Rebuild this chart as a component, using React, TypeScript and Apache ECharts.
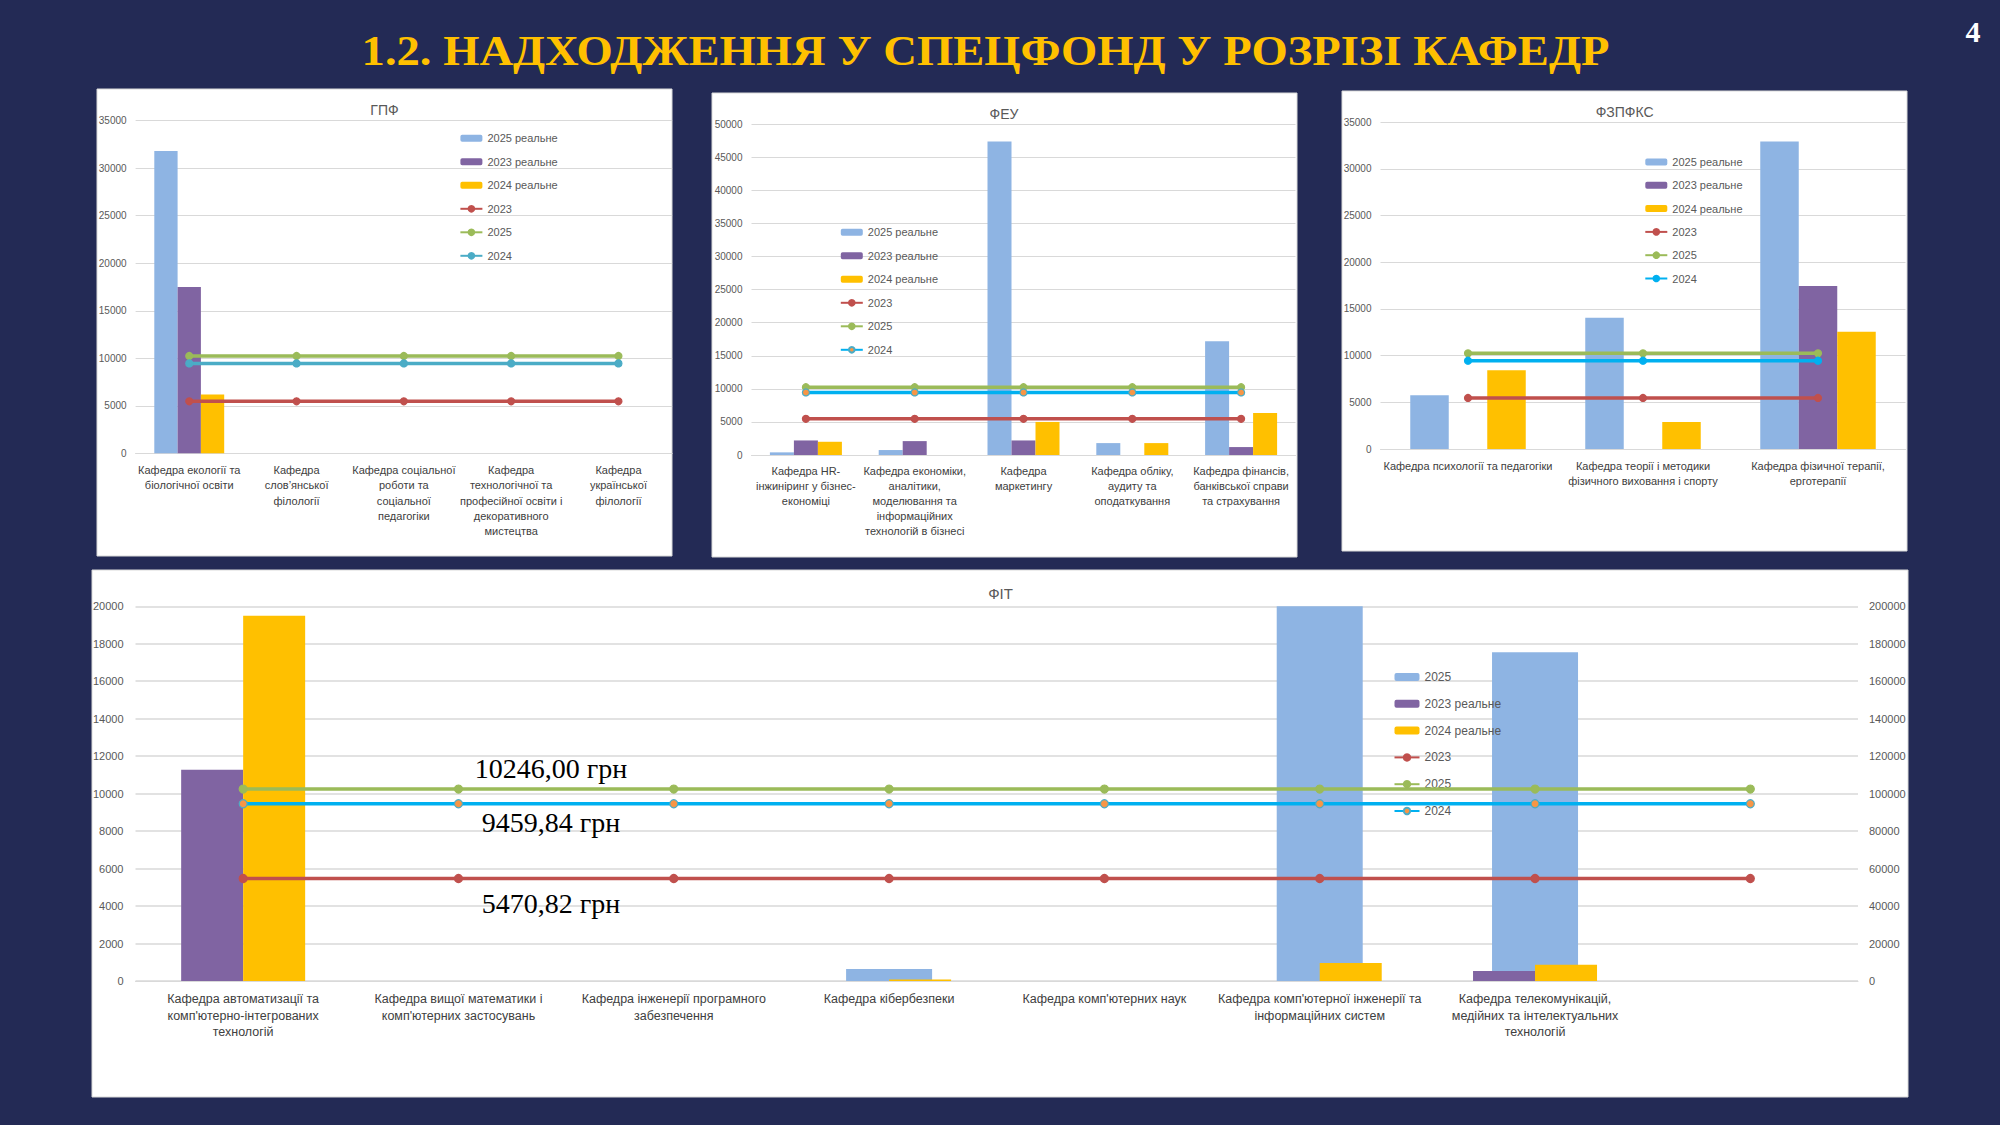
import React, { useEffect, useRef } from "react";
import * as echarts from "echarts";

// ---------- page texts ----------
const PAGE_TITLE = "1.2. НАДХОДЖЕННЯ У СПЕЦФОНД У РОЗРІЗІ КАФЕДР";
const PAGE_NUMBER = "4";
const NOTE_2025 = "10246,00 грн";
const NOTE_2024 = "9459,84 грн";
const NOTE_2023 = "5470,82 грн";

// ---------- ГПФ ----------
const gpfTitle = "ГПФ";
const gpfCategories = [
  "Кафедра екології та\nбіологічної освіти",
  "Кафедра\nслов’янської\nфілології",
  "Кафедра соціальної\nроботи та\nсоціальної\nпедагогіки",
  "Кафедра\nтехнологічної та\nпрофесійної освіти і\nдекоративного\nмистецтва",
  "Кафедра\nукраїнської\nфілології",
];
const gpfReal2025 = [31800, null, null, null, null];
const gpfReal2023 = [17500, null, null, null, null];
const gpfReal2024 = [6200, null, null, null, null];
const gpfPlan2023 = [5470.82, 5470.82, 5470.82, 5470.82, 5470.82];
const gpfPlan2025 = [10246, 10246, 10246, 10246, 10246];
const gpfPlan2024 = [9459.84, 9459.84, 9459.84, 9459.84, 9459.84];

// ---------- ФЕУ ----------
const feuTitle = "ФЕУ";
const feuCategories = [
  "Кафедра HR-\nінжиніринг у бізнес-\nекономіці",
  "Кафедра економіки,\nаналітики,\nмоделювання та\nінформаційних\nтехнологій в бізнесі",
  "Кафедра\nмаркетингу",
  "Кафедра обліку,\nаудиту та\nоподаткування",
  "Кафедра фінансів,\nбанківської справи\nта страхування",
];
const feuReal2025 = [400, 750, 47400, 1800, 17200];
const feuReal2023 = [2200, 2100, 2200, null, 1200];
const feuReal2024 = [2000, null, 5000, 1800, 6350];
const feuPlan2023 = [5470.82, 5470.82, 5470.82, 5470.82, 5470.82];
const feuPlan2025 = [10246, 10246, 10246, 10246, 10246];
const feuPlan2024 = [9459.84, 9459.84, 9459.84, 9459.84, 9459.84];

// ---------- ФЗПФКС ----------
const fzTitle = "ФЗПФКС";
const fzCategories = [
  "Кафедра психології та педагогіки",
  "Кафедра теорії і методики\nфізичного виховання і спорту",
  "Кафедра фізичної терапії,\nерготерапії",
];
const fzReal2025 = [5750, 14050, 32950];
const fzReal2023 = [null, null, 17450];
const fzReal2024 = [8450, 2900, 12550];
const fzPlan2023 = [5470.82, 5470.82, 5470.82];
const fzPlan2025 = [10246, 10246, 10246];
const fzPlan2024 = [9459.84, 9459.84, 9459.84];

// ---------- ФІТ ----------
const fitTitle = "ФІТ";
const fitCategories = [
  "Кафедра автоматизації та\nкомп'ютерно-інтегрованих\nтехнологій",
  "Кафедра вищої математики і\nкомп'ютерних застосувань",
  "Кафедра інженерії програмного\nзабезпечення",
  "Кафедра кібербезпеки",
  "Кафедра комп'ютерних наук",
  "Кафедра комп'ютерної інженерії та\nінформаційних систем",
  "Кафедра телекомунікацій,\nмедійних та інтелектуальних\nтехнологій",
  "",
];
const fit2025 = [null, null, null, 6400, null, 200000, 175500, null];
const fitReal2023 = [11270, null, null, null, null, null, 530, null];
const fitReal2024 = [19500, null, null, 80, null, 960, 865, null];
const fitPlan2023 = [5470.82, 5470.82, 5470.82, 5470.82, 5470.82, 5470.82, 5470.82, 5470.82];
const fitPlan2025 = [10246, 10246, 10246, 10246, 10246, 10246, 10246, 10246];
const fitPlan2024 = [9459.84, 9459.84, 9459.84, 9459.84, 9459.84, 9459.84, 9459.84, 9459.84];

// ---------- axis scales ----------
const gpfAxis = { max: 35000, interval: 5000 };
const feuAxis = { max: 50000, interval: 5000 };
const fzAxis = { max: 35000, interval: 5000 };
const fitLeftAxis = { max: 20000, interval: 2000 };
const fitRightAxis = { max: 200000, interval: 20000 };

// ---------- styles ----------
const FONT = '"Liberation Sans", Arial, sans-serif';
const SERIF = '"Liberation Serif", "Times New Roman", serif';
const BG = "#232A55";
const C_BLUE = "#8EB4E3";
const C_PURPLE = "#8064A2";
const C_YELLOW = "#FFC000";
const C_RED = "#C0504D";
const C_GREEN = "#9BBB59";
const C_TEAL = "#4BACC6";
const C_CYAN = "#00B0F0";
const C_ORANGE = "#F79646";
const GRIDLINE = "#D9D9D9";

const plainNumber = (v: number) => String(v);

type Panel = {
  key: string;
  title: string;
  cats: string[];
  r25: (number | null)[];
  r23: (number | null)[];
  r24: (number | null)[];
  p23: number[];
  p25: number[];
  p24: number[];
  axis: { max: number; interval: number };
  grid: { left: number; top: number; width: number; height: number };
  barWidth: number;
  legend: { left: number; top: number; gap: number };
  c24Line: string;
  c24Marker: string;
  c24Border: string;
  rect: [number, number, number, number];
  titlePos: [number, number];
  labelMargin: number;
  labelLH: number;
};

const panels: Panel[] = [
  {
    key: "gpf", title: gpfTitle, cats: gpfCategories,
    r25: gpfReal2025, r23: gpfReal2023, r24: gpfReal2024,
    p23: gpfPlan2023, p25: gpfPlan2025, p24: gpfPlan2024, axis: gpfAxis,
    grid: { left: 135.6, top: 120.7, width: 536.5, height: 332.6 },
    barWidth: 23.3,
    legend: { left: 459.4, top: 131.3, gap: 9.5 },
    c24Line: C_TEAL, c24Marker: C_TEAL, c24Border: C_TEAL,
    rect: [97, 89, 575, 467], titlePos: [384.5, 109.5],
    labelMargin: 9, labelLH: 15.3,
  },
  {
    key: "feu", title: feuTitle, cats: feuCategories,
    r25: feuReal2025, r23: feuReal2023, r24: feuReal2024,
    p23: feuPlan2023, p25: feuPlan2025, p24: feuPlan2024, axis: feuAxis,
    grid: { left: 751.5, top: 124.3, width: 544, height: 330.7 },
    barWidth: 24,
    legend: { left: 839.8, top: 225.3, gap: 9.5 },
    c24Line: C_CYAN, c24Marker: C_ORANGE, c24Border: C_TEAL,
    rect: [712, 93, 585, 464], titlePos: [1004, 113.5],
    labelMargin: 8.5, labelLH: 15,
  },
  {
    key: "fz", title: fzTitle, cats: fzCategories,
    r25: fzReal2025, r23: fzReal2023, r24: fzReal2024,
    p23: fzPlan2023, p25: fzPlan2025, p24: fzPlan2024, axis: fzAxis,
    grid: { left: 1380.5, top: 122.3, width: 525, height: 326.7 },
    barWidth: 38.5,
    legend: { left: 1644.3, top: 155, gap: 9.3 },
    c24Line: C_CYAN, c24Marker: C_CYAN, c24Border: C_CYAN,
    rect: [1342, 91, 565, 460], titlePos: [1624.6, 111.5],
    labelMargin: 9, labelLH: 15,
  },
];

const FIT_GRID = { left: 135.5, top: 606.3, width: 1722.5, height: 374.7 };
const FIT_RECT: [number, number, number, number] = [92, 570, 1816, 527];

const nameOf = (n: string) => n.split("|")[1];

function lineSeries(name: string, xi: number, yi: number, data: number[], color: string, marker: string, border: string, size: number, width: number) {
  return {
    type: "line", name, xAxisIndex: xi, yAxisIndex: yi, data,
    symbol: "circle", symbolSize: size, showSymbol: true,
    lineStyle: { width, color },
    itemStyle: { color: marker, borderColor: border, borderWidth: 1.2 },
    z: 4,
  };
}

function buildOption() {
  const grid: any[] = [];
  const xAxis: any[] = [];
  const yAxis: any[] = [];
  const series: any[] = [];
  const legend: any[] = [];
  const graphic: any[] = [];

  panels.forEach((p, i) => {
    grid.push({ ...p.grid, containLabel: false });
    xAxis.push({
      type: "category", gridIndex: i, data: p.cats,
      axisTick: { show: false },
      axisLine: { show: true, lineStyle: { color: GRIDLINE } },
      axisLabel: { interval: 0, fontSize: 11, color: "#404040", lineHeight: p.labelLH, margin: p.labelMargin, fontFamily: FONT },
    });
    yAxis.push({
      type: "value", gridIndex: i, min: 0, max: p.axis.max, interval: p.axis.interval,
      axisLine: { show: false }, axisTick: { show: false },
      axisLabel: { fontSize: 10, color: "#595959", margin: 9, fontFamily: FONT, formatter: plainNumber },
      splitLine: { lineStyle: { color: GRIDLINE, width: 1 } },
    });
    const names = [
      `${p.key}|2025 реальне`, `${p.key}|2023 реальне`, `${p.key}|2024 реальне`,
      `${p.key}|2023`, `${p.key}|2025`, `${p.key}|2024`,
    ];
    const barBase = { type: "bar", xAxisIndex: i, yAxisIndex: i, barWidth: p.barWidth, barGap: "0%", z: 2 };
    series.push({ ...barBase, name: names[0], data: p.r25, itemStyle: { color: C_BLUE } });
    series.push({ ...barBase, name: names[1], data: p.r23, itemStyle: { color: C_PURPLE } });
    series.push({ ...barBase, name: names[2], data: p.r24, itemStyle: { color: C_YELLOW } });
    series.push(lineSeries(names[3], i, i, p.p23, C_RED, C_RED, C_RED, 7, 3.5));
    series.push(lineSeries(names[4], i, i, p.p25, C_GREEN, C_GREEN, C_GREEN, 7, 3.5));
    series.push(lineSeries(names[5], i, i, p.p24, p.c24Line, p.c24Marker, p.c24Border, 7, 3.5));
    legend.push({
      orient: "vertical", left: p.legend.left, top: p.legend.top, padding: 0,
      itemGap: p.legend.gap, itemWidth: 22, itemHeight: 7,
      data: names, formatter: nameOf, selectedMode: false,
      textStyle: { fontSize: 11, color: "#595959", lineHeight: 14, fontFamily: FONT },
    });
    graphic.push({
      type: "rect", z: -10, silent: true,
      shape: { x: p.rect[0], y: p.rect[1], width: p.rect[2], height: p.rect[3] },
      style: { fill: "#FFFFFF", stroke: "#D9D9D9", lineWidth: 1 },
    });
    graphic.push({
      type: "text", z: 10, x: p.titlePos[0], y: p.titlePos[1], silent: true,
      style: { text: p.title, fill: "#595959", fontSize: 14, fontFamily: FONT, align: "center", verticalAlign: "middle" },
    });
  });

  // ФІТ panel
  grid.push({ ...FIT_GRID, containLabel: false });
  xAxis.push({
    type: "category", gridIndex: 3, data: fitCategories,
    axisTick: { show: false },
    axisLine: { show: true, lineStyle: { color: GRIDLINE } },
    axisLabel: { interval: 0, fontSize: 12.5, color: "#404040", lineHeight: 16.5, margin: 10, fontFamily: FONT },
  });
  xAxis.push({ type: "category", gridIndex: 3, data: fitCategories, show: false });
  yAxis.push({
    type: "value", gridIndex: 3, min: 0, max: fitLeftAxis.max, interval: fitLeftAxis.interval,
    axisLine: { show: false }, axisTick: { show: false },
    axisLabel: { fontSize: 11, color: "#595959", margin: 12, fontFamily: FONT, formatter: plainNumber },
    splitLine: { lineStyle: { color: GRIDLINE, width: 1.5 } },
  });
  yAxis.push({
    type: "value", gridIndex: 3, position: "right", min: 0, max: fitRightAxis.max, interval: fitRightAxis.interval,
    axisLine: { show: false }, axisTick: { show: false },
    axisLabel: { fontSize: 11, color: "#595959", margin: 11, fontFamily: FONT, formatter: plainNumber },
    splitLine: { show: false },
  });
  const fitNames = ["fit|2025|bar", "fit|2023 реальне", "fit|2024 реальне", "fit|2023", "fit|2025|line", "fit|2024"];
  series.push({ type: "bar", name: fitNames[0], xAxisIndex: 4, yAxisIndex: 4, data: fit2025, barWidth: 86, itemStyle: { color: C_BLUE }, z: 1 });
  series.push({ type: "bar", name: fitNames[1], xAxisIndex: 3, yAxisIndex: 3, data: fitReal2023, barWidth: 62, barGap: "0%", itemStyle: { color: C_PURPLE }, z: 2 });
  series.push({ type: "bar", name: fitNames[2], xAxisIndex: 3, yAxisIndex: 3, data: fitReal2024, barWidth: 62, barGap: "0%", itemStyle: { color: C_YELLOW }, z: 2 });
  series.push(lineSeries(fitNames[3], 3, 3, fitPlan2023, C_RED, C_RED, C_RED, 8, 3.5));
  series.push(lineSeries(fitNames[4], 3, 3, fitPlan2025, C_GREEN, C_GREEN, C_GREEN, 8, 3.5));
  series.push(lineSeries(fitNames[5], 3, 3, fitPlan2024, C_CYAN, C_ORANGE, C_TEAL, 8, 3.5));
  legend.push({
    orient: "vertical", left: 1393.5, top: 669.5, padding: 0,
    itemGap: 11.8, itemWidth: 25, itemHeight: 8,
    data: fitNames, formatter: nameOf, selectedMode: false,
    textStyle: { fontSize: 12, color: "#595959", lineHeight: 15, fontFamily: FONT },
  });
  graphic.push({
    type: "rect", z: -10, silent: true,
    shape: { x: FIT_RECT[0], y: FIT_RECT[1], width: FIT_RECT[2], height: FIT_RECT[3] },
    style: { fill: "#FFFFFF", stroke: "#D9D9D9", lineWidth: 1 },
  });
  graphic.push({
    type: "text", z: 10, x: 1000.5, y: 593, silent: true,
    style: { text: fitTitle, fill: "#595959", fontSize: 15, fontFamily: FONT, align: "center", verticalAlign: "middle" },
  });
  const notes: [string, number][] = [[NOTE_2025, 768.7], [NOTE_2024, 822.8], [NOTE_2023, 903]];
  notes.forEach(([t, y]) => {
    graphic.push({
      type: "text", z: 10, x: 551, y, silent: true,
      style: { text: t, fill: "#000000", fontSize: 28, fontFamily: SERIF, align: "center", verticalAlign: "middle" },
    });
  });

  // page title & number
  graphic.push({
    type: "text", z: 10, x: 985.5, y: 50.5, scaleX: 1.11, silent: true,
    style: { text: PAGE_TITLE, fill: "#FFC000", fontSize: 42, fontWeight: "bold", fontFamily: SERIF, align: "center", verticalAlign: "middle" },
  });
  graphic.push({
    type: "text", z: 10, x: 1973, y: 31, silent: true,
    style: { text: PAGE_NUMBER, fill: "#FFFFFF", fontSize: 30, fontWeight: "bold", fontFamily: SERIF, align: "center", verticalAlign: "middle" },
  });

  return {
    animation: false,
    backgroundColor: BG,
    textStyle: { fontFamily: FONT },
    grid, xAxis, yAxis, series, legend, graphic,
  };
}

export default function App() {
  const ref = useRef<HTMLDivElement>(null);
  useEffect(() => {
    if (!ref.current) return;
    const chart = echarts.init(ref.current, undefined, { renderer: "svg" });
    chart.setOption(buildOption() as any);
    return () => chart.dispose();
  }, []);
  return (
    <div
      ref={ref}
      style={{ position: "absolute", left: 0, top: 0, width: 2000, height: 1125 }}
    />
  );
}
